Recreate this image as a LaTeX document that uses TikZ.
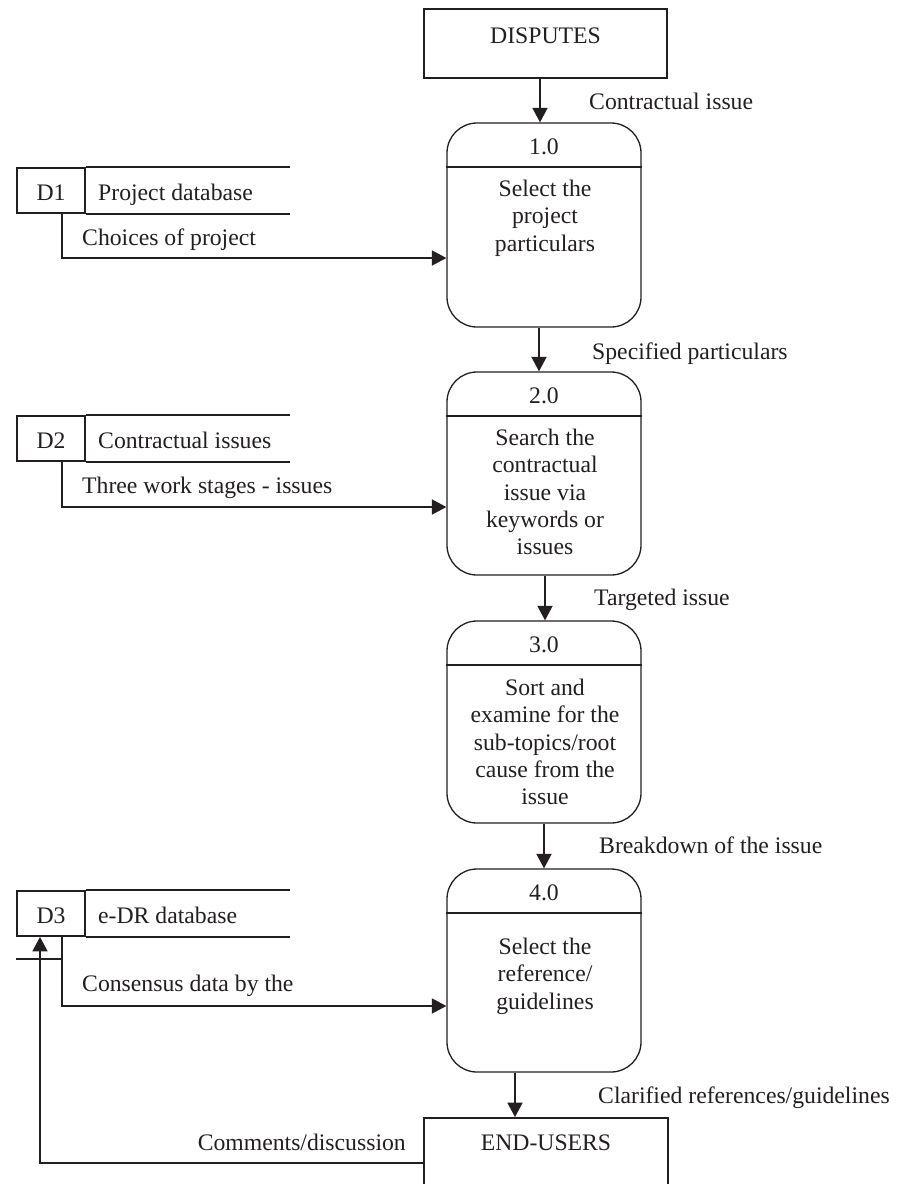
\documentclass[tikz,border=0pt]{standalone}
\usepackage{fontspec}
\setmainfont{Liberation Serif}
\usetikzlibrary{arrows.meta}
\definecolor{ink}{RGB}{35,31,32}
\begin{document}
\begin{tikzpicture}[x=1pt,y=-1pt,
  every node/.style={font=\fontsize{23.7}{27.25}\selectfont, text=ink, inner sep=0pt},
  flow/.style={draw=ink, line width=1.8pt, -{Triangle[length=14.5pt,width=15pt]}},
  plain/.style={draw=ink, line width=1.8pt},
  proc/.style={draw=ink, line width=1.3pt, rounded corners=30pt, minimum width=194pt},
  extbox/.style={draw=ink, line width=1.8pt, anchor=base},
  storebox/.style={draw=ink, line width=1.8pt, anchor=base, minimum width=68pt, text height=32pt, text depth=13pt},
  desc/.style={align=center, anchor=north, execute at begin node=\strut},
  num/.style={anchor=base},
  lbl/.style={anchor=base west},
]
\useasboundingbox (0,0) rectangle (898,1184);
\clip (0,0) rectangle (898,1184);

% external entities
\node[extbox, minimum width=243pt, text height=34pt, text depth=35pt] (disp) at (545.5,43) {DISPUTES};
\node[extbox, minimum width=244pt, text height=32pt, text depth=45pt] (endu) at (546,1150) {END-USERS};

% processes
\node[proc, minimum height=204pt] (p1) at (544,225) {};
\node[proc, minimum height=203pt] (p2) at (544,473.5) {};
\node[proc, minimum height=202pt] (p3) at (544,722) {};
\node[proc, minimum height=203pt] (p4) at (544,970.5) {};
\foreach \p in {p1,p2,p3,p4}{
  \draw[plain] ([yshift=-45pt]\p.north west) -- ([yshift=-45pt]\p.north east);
}
\node[num] (n1) at (544,154) {1.0};
\node[num] (n2) at (544,403) {2.0};
\node[num] (n3) at (544,652) {3.0};
\node[num] (n4) at (544,900) {4.0};
\node[desc] (t1) at (545,179.9) {Select the\\project\\particulars};
\node[desc] (t2) at (545,428.9) {Search the\\contractual\\issue via\\keywords or\\issues};
\node[desc] (t3) at (545,678.9) {Sort and\\examine for the\\sub-topics/root\\cause from the\\issue};
\node[desc] (t4) at (545,937.9) {Select the\\reference/\\guidelines};

% data stores
\node[storebox] (d1) at (51,200) {D1};
\node[storebox] (d2) at (51,448) {D2};
\node[storebox] (d3) at (51,923) {D3};
\foreach \d in {d1,d2,d3}{
  \draw[plain] (\d.north east) -- ++(204,0);
  \draw[plain] (\d.south east) -- ++(204,0);
}
\node[lbl] (s1) at (98,200) {Project database};
\node[lbl] (s2) at (98,448) {Contractual issues};
\node[lbl] (s3) at (98,923) {e-DR database};
\draw[plain] ([yshift=-22pt]d3.south west) -- ([yshift=-22pt,xshift=45pt]d3.south west);

% main flow
\draw[flow] ([xshift=-5.5pt]disp.south) -- ([xshift=-5.5pt]disp.south |- p1.north);
\draw[flow] ([xshift=-5pt]p1.south) -- ([xshift=-5pt]p2.north);
\draw[flow] ([xshift=1pt]p2.south) -- ([xshift=1pt]p3.north);
\draw[flow] (p3.south) -- (p4.north);
\draw[flow] ([xshift=-29pt]p4.south) -- ([xshift=-29pt]p4.south |- endu.north);

% store flows
\draw[flow] ([xshift=11pt]d1.south) |- ([yshift=-33pt]p1.west);
\draw[flow] ([xshift=11pt]d2.south) |- ([yshift=-33.5pt]p2.west);
\draw[flow] ([xshift=11pt]d3.south) |- ([yshift=-35.5pt]p4.west);
\draw[flow] ([yshift=-6.5pt]endu.west) -| ([xshift=-11pt]d3.south);

% flow labels
\node[lbl] (l1) at (589,109) {Contractual issue};
\node[lbl] (l2) at (592,359) {Specified particulars};
\node[lbl] (l3) at (594,605) {Targeted issue};
\node[lbl] (l4) at (599,853) {Breakdown of the issue};
\node[lbl] (l5) at (598,1103) {Clarified references/guidelines};
\node[lbl] (l6) at (82,245) {Choices of project};
\node[lbl] (l7) at (82,493) {Three work stages - issues};
\node[lbl] (l8) at (82,991) {Consensus data by the};
\node[anchor=base east] (l9) at (406,1150) {Comments/discussion};
\end{tikzpicture}
\end{document}
